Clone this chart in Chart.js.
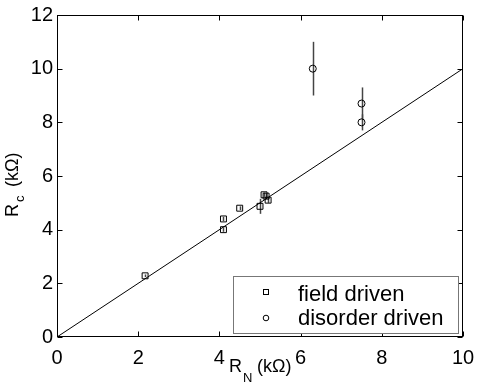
<!DOCTYPE html>
<html><head><meta charset="utf-8">
<script src="https://cdn.jsdelivr.net/npm/chart.js@4"></script>
<style>html,body{margin:0;padding:0;background:#fff}</style>
</head><body>
<canvas id="c" width="479" height="382"></canvas>
<script>
// ---- data ----
const fieldX   = [2.17, 4.10, 4.10, 4.50, 5.00, 5.10, 5.15, 5.20];
const fieldY   = [2.28, 4.00, 4.40, 4.80, 4.87, 5.30, 5.25, 5.10];
const fieldErr = [0.05, 0.08, 0.08, 0.07, 0.28, 0.08, 0.10, 0.10];
const disorderX   = [6.30, 7.50, 7.50];
const disorderY   = [10.00, 8.70, 8.00];
const disorderErr = [1.00, 0.60, 0.30];
const fitX = [0, 10];
const fitY = [0, 10];
const xTicks = [0, 2, 4, 6, 8, 10];
const yTicks = [0, 2, 4, 6, 8, 10, 12];
const legendLabels = ['field driven', 'disorder driven'];

const FONT = '"Liberation Sans", Arial, Helvetica, sans-serif';
const toPts = (xs, ys) => xs.map((x, i) => ({x: x, y: ys[i]}));

const decor = {
  id: 'decor',
  beforeDatasetsDraw(chart) {
    const ctx = chart.ctx, xs = chart.scales.x, ys = chart.scales.y;
    ctx.save();
    ctx.strokeStyle = '#444';
    ctx.lineWidth = 1.5;
    const bars = [[fieldX, fieldY, fieldErr], [disorderX, disorderY, disorderErr]];
    bars.forEach(([X, Y, E]) => {
      X.forEach((x, i) => {
        const px = Math.round(xs.getPixelForValue(x)) + 0.5;
        ctx.beginPath();
        ctx.moveTo(px, ys.getPixelForValue(Y[i] - E[i]));
        ctx.lineTo(px, ys.getPixelForValue(Y[i] + E[i]));
        ctx.stroke();
      });
    });
    ctx.restore();
  },
  afterDraw(chart) {
    const ctx = chart.ctx, xs = chart.scales.x, ys = chart.scales.y, a = chart.chartArea;
    ctx.save();
    // box
    const L = Math.round(a.left) + 0.5, R = Math.round(a.right) - 0.5;
    const T = Math.round(a.top) + 0.5, B = Math.round(a.bottom) - 0.5;
    ctx.strokeStyle = '#000';
    ctx.lineWidth = 1;
    ctx.strokeRect(L, T, R - L, B - T);
    // inward ticks on all four sides
    ctx.beginPath();
    xTicks.forEach(v => {
      const px = Math.round(xs.getPixelForValue(v)) + 0.5;
      ctx.moveTo(px, B); ctx.lineTo(px, B - 5);
      ctx.moveTo(px, T); ctx.lineTo(px, T + 5);
    });
    yTicks.forEach(v => {
      const py = Math.round(ys.getPixelForValue(v)) + 0.5;
      ctx.moveTo(L, py); ctx.lineTo(L + 5, py);
      ctx.moveTo(R, py); ctx.lineTo(R - 5, py);
    });
    ctx.stroke();

    // legend
    const lx = 233.5, ly = 276.5, lw = 225, lh = 57;
    ctx.fillStyle = '#fff';
    ctx.fillRect(lx, ly, lw, lh);
    ctx.strokeStyle = '#777';
    ctx.strokeRect(lx, ly, lw, lh);
    ctx.strokeStyle = '#000';
    ctx.lineWidth = 1;
    ctx.strokeRect(263.5, 289.5, 5, 5);
    ctx.beginPath();
    ctx.arc(266, 318, 2.8, 0, Math.PI * 2);
    ctx.stroke();
    ctx.fillStyle = '#000';
    ctx.font = '22px ' + FONT;
    ctx.textAlign = 'left';
    ctx.textBaseline = 'alphabetic';
    ctx.fillText(legendLabels[0], 298, 301);
    ctx.fillText(legendLabels[1], 298, 325);

    // x axis title: R_N (kΩ)
    ctx.font = '18px ' + FONT;
    ctx.fillText('R', 229, 372);
    ctx.font = '13px ' + FONT;
    ctx.fillText('N', 243, 382);
    ctx.font = '18px ' + FONT;
    ctx.fillText('(k\u03A9)', 257, 372);

    // y axis title: R_c (kΩ)
    ctx.save();
    ctx.translate(18, 217);
    ctx.rotate(-Math.PI / 2);
    ctx.font = '18px ' + FONT;
    ctx.fillText('R', 0, 0);
    ctx.font = '13px ' + FONT;
    ctx.fillText('c', 15, 6);
    ctx.font = '18px ' + FONT;
    ctx.fillText('(k\u03A9)', 30, 0);
    ctx.restore();

    ctx.restore();
  }
};

new Chart(document.getElementById('c'), {
  type: 'scatter',
  data: {
    datasets: [
      {
        type: 'line',
        data: toPts(fitX, fitY),
        borderColor: '#000',
        borderWidth: 1,
        pointRadius: 0,
        fill: false,
        tension: 0
      },
      {
        data: toPts(fieldX, fieldY),
        pointStyle: 'rect',
        pointRadius: 4.2,
        borderColor: '#000',
        borderWidth: 1,
        backgroundColor: 'rgba(0,0,0,0)'
      },
      {
        data: toPts(disorderX, disorderY),
        pointStyle: 'circle',
        pointRadius: 3.5,
        borderColor: '#000',
        borderWidth: 1,
        backgroundColor: 'rgba(0,0,0,0)'
      }
    ]
  },
  options: {
    responsive: false,
    animation: false,
    devicePixelRatio: 1,
    layout: {padding: {top: 15, right: 16, left: 0, bottom: 0}},
    plugins: {legend: {display: false}, tooltip: {enabled: false}},
    scales: {
      x: {
        type: 'linear', min: 0, max: 10,
        afterBuildTicks: s => { s.ticks = xTicks.map(v => ({value: v})); },
        afterFit: s => { s.height = 45; s.paddingLeft = 0; s.paddingRight = 0; },
        grid: {display: false, drawTicks: false},
        border: {display: false},
        ticks: {color: '#000', font: {family: FONT, size: 20}, padding: 9, maxRotation: 0}
      },
      y: {
        type: 'linear', min: 0, max: 12,
        afterBuildTicks: s => { s.ticks = yTicks.map(v => ({value: v})); },
        afterFit: s => { s.width = 57; s.paddingTop = 0; s.paddingBottom = 0; },
        grid: {display: false, drawTicks: false},
        border: {display: false},
        ticks: {color: '#000', font: {family: FONT, size: 20}, padding: 4}
      }
    }
  },
  plugins: [decor]
});
</script>
</body></html>
